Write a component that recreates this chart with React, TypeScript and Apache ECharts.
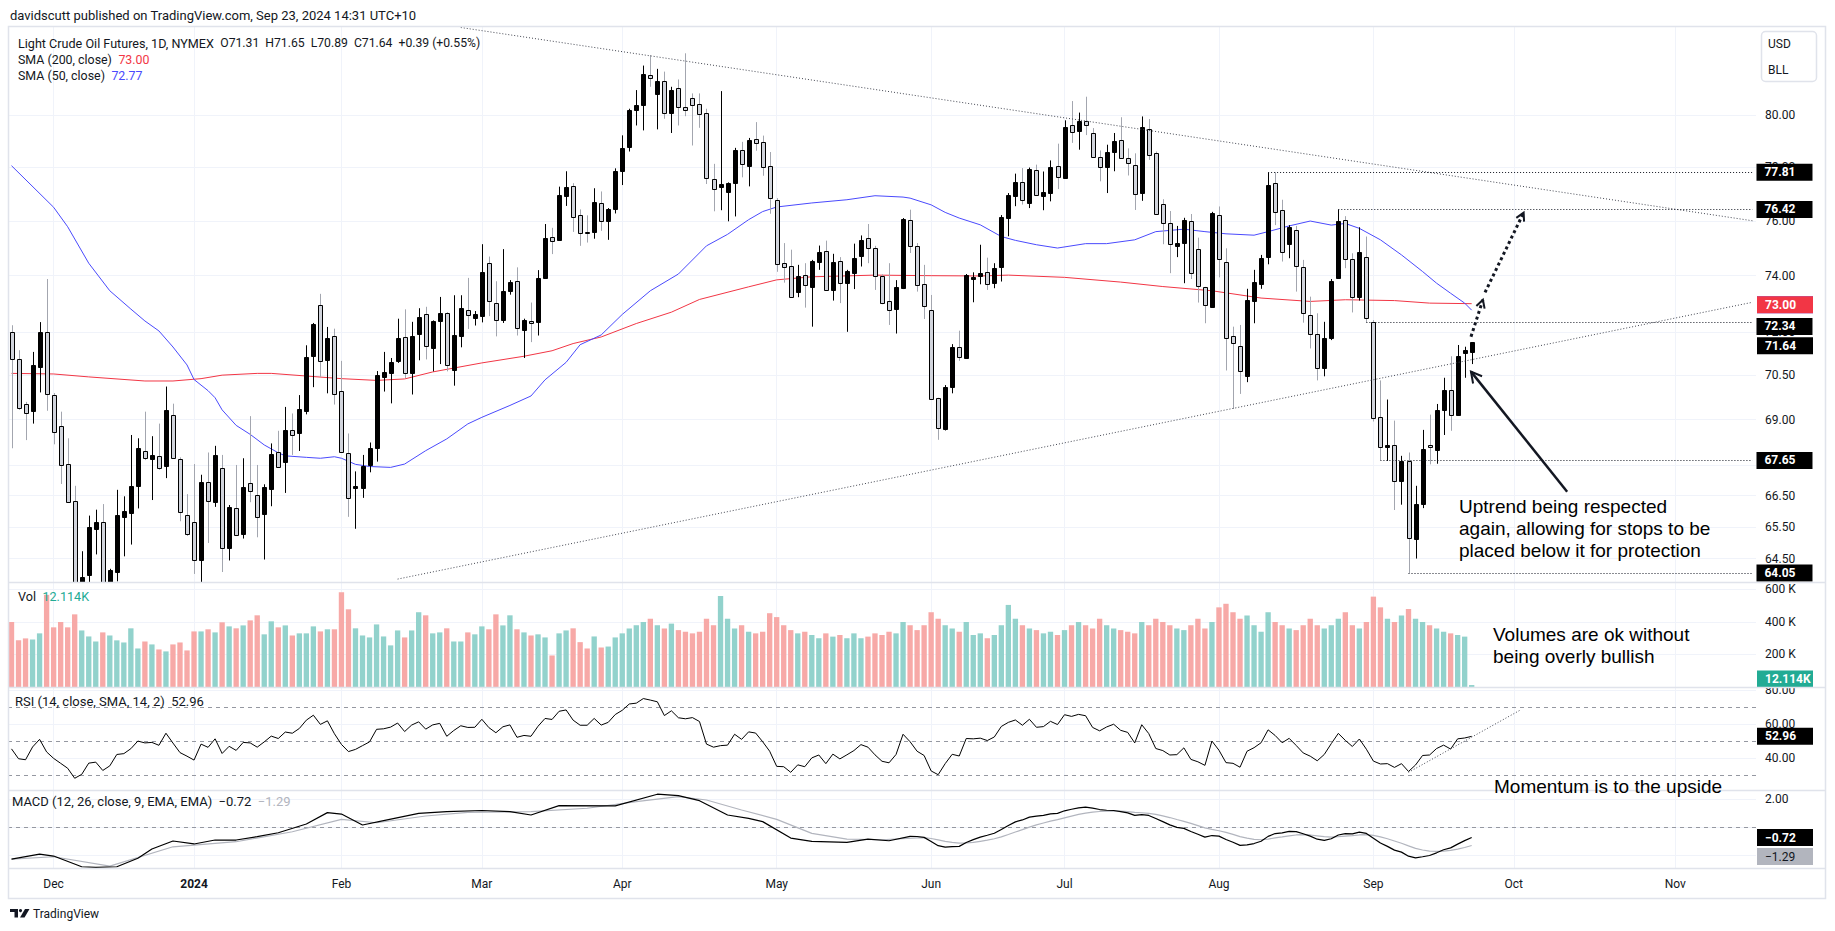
import React, { useEffect, useRef } from "react";
import * as echarts from "echarts";

// ---------------- data ----------------
const HOLIDAYS = ["2023-11-23", "2023-12-25", "2024-01-01", "2024-01-15", "2024-02-19", "2024-03-29", "2024-05-27", "2024-06-19", "2024-07-04", "2024-09-02"];
const FIRST_SESSION = "2023-11-22";
const SESSION_COUNT = 249; // visible sessions incl. empty space on the right
const MONTHS = ["Jan", "Feb", "Mar", "Apr", "May", "Jun", "Jul", "Aug", "Sep", "Oct", "Nov", "Dec"];

const OPEN = [72.00,71.05,69.54,69.30,70.80,72.01,69.83,68.78,67.53,66.34,
63.30,64.00,65.42,65.67,63.60,64.08,65.82,65.95,66.82,67.96,
67.69,67.80,67.47,69.17,67.70,65.89,65.65,64.44,66.95,66.30,
67.41,64.84,66.09,65.26,66.92,66.53,65.91,66.72,67.93,67.59,
68.65,68.54,69.30,71.18,72.94,71.03,71.87,69.97,67.88,66.75,
66.75,67.50,68.07,70.43,70.60,71.00,71.82,70.60,71.93,72.65,
71.43,72.38,72.68,70.67,71.88,72.78,72.49,72.56,74.44,73.04,
72.42,73.44,73.80,72.08,72.38,72.35,73.93,75.42,75.30,76.93,
77.28,76.21,75.59,75.59,76.67,75.99,76.44,77.86,78.77,80.20,
80.38,81.58,80.81,81.35,80.08,81.07,80.31,80.66,80.42,80.08,
77.55,77.24,77.08,77.39,78.67,78.06,79.08,78.97,78.03,76.78,
74.45,74.35,73.43,74.02,73.61,74.51,74.89,73.47,74.52,73.73,
74.11,74.70,75.37,75.00,73.99,73.10,72.80,73.57,76.04,75.08,
73.70,72.78,69.74,68.69,70.09,71.47,71.11,73.89,73.99,74.14,
73.73,74.30,76.10,76.93,77.44,76.66,77.88,76.91,77.03,78.06,
77.61,79.62,79.37,79.78,79.31,78.39,78.01,78.58,79.03,78.34,
78.09,77.03,79.45,78.53,76.61,75.90,75.08,75.18,76.00,74.96,
73.58,72.90,76.23,74.51,71.87,71.52,70.48,73.11,73.69,74.67,
77.40,76.38,75.16,75.66,74.30,72.60,71.95,70.76,71.78,73.93,
76.03,74.60,73.25,74.69,72.37,69.10,68.08,68.16,66.97,67.63,
65.11,66.23,68.16,67.99,69.33,70.01,69.16,71.28,71.31];

const HIGH = [72.24,71.37,69.60,71.31,72.35,73.88,69.90,69.27,68.38,66.82,
64.73,65.86,66.05,66.23,64.18,66.69,66.48,68.49,68.38,69.27,
68.45,68.87,70.12,69.54,67.75,66.55,67.53,67.18,67.91,68.13,
67.83,66.20,67.50,67.72,69.12,67.50,66.87,68.21,68.63,69.43,
69.21,69.83,71.54,72.32,73.35,72.18,72.12,71.00,68.54,67.29,
67.83,68.24,70.65,71.31,71.10,72.47,72.80,72.36,72.84,72.89,
72.41,73.24,72.70,73.30,73.30,73.92,72.74,75.14,74.69,73.80,
74.96,73.84,74.30,72.47,73.04,74.20,75.88,75.74,77.27,77.85,
77.40,76.42,76.20,77.21,77.09,76.47,77.96,79.22,80.25,80.98,
81.95,82.37,81.82,81.71,81.11,81.40,82.44,80.85,80.85,80.25,
78.13,80.94,77.43,78.74,78.97,79.12,79.73,79.21,78.58,76.84,
75.18,74.94,74.39,74.45,74.57,75.09,75.27,74.79,74.67,74.21,
75.16,75.46,75.88,75.08,74.05,74.45,73.84,76.10,76.41,75.18,
74.39,73.31,69.74,70.17,71.58,72.05,74.06,74.12,75.12,74.65,
74.45,76.21,77.03,77.76,77.97,77.99,78.10,77.84,78.26,78.90,
79.80,80.55,80.10,80.72,79.50,78.64,78.86,79.31,79.92,78.72,
78.53,79.95,79.85,78.60,76.80,76.36,75.81,76.11,76.25,75.38,
73.60,76.33,76.53,74.99,72.19,72.25,73.53,74.21,74.75,77.81,
77.81,76.78,75.84,75.81,74.57,73.25,72.66,72.36,73.88,76.42,
76.17,74.81,75.76,75.42,72.42,70.33,69.68,68.97,67.80,67.91,
66.82,68.66,69.17,69.53,70.42,71.16,71.55,71.49,71.65];

const LOW = [68.05,69.33,68.32,68.87,69.92,69.30,68.18,66.88,66.31,63.20,
63.00,63.60,64.63,63.30,63.40,63.79,64.57,64.94,66.09,67.66,
66.36,67.34,67.07,67.70,65.68,65.21,64.02,63.77,64.99,66.14,
64.08,64.44,65.21,65.13,66.29,65.17,64.47,66.16,67.41,66.59,
67.83,67.96,69.18,70.10,70.45,69.89,69.51,67.94,65.82,65.44,
66.43,67.26,67.61,69.95,69.55,70.93,70.41,69.85,71.02,71.05,
70.64,70.89,70.64,70.15,71.47,72.11,72.23,72.34,72.56,71.85,
72.32,73.32,71.88,71.10,71.65,71.88,73.88,74.78,75.30,76.55,
75.59,75.08,75.20,75.34,75.63,75.30,76.27,77.33,78.60,79.60,
79.41,81.11,79.45,79.86,79.31,79.60,79.96,78.83,79.51,77.37,
76.35,76.39,75.98,76.16,77.62,77.28,78.63,77.68,76.26,74.14,
73.75,73.25,73.23,72.86,72.19,74.21,73.47,73.11,73.02,72.01,
73.52,74.33,74.45,73.49,72.98,72.25,71.95,73.52,74.82,73.43,
72.46,69.71,68.33,68.64,69.89,71.00,71.11,73.05,73.69,73.49,
73.55,73.79,75.43,76.54,76.60,76.47,76.93,76.39,76.72,77.18,
77.60,78.93,78.67,79.23,78.39,77.47,77.03,77.85,78.32,77.69,
76.40,76.74,78.28,76.25,75.14,74.09,74.67,73.73,73.88,73.04,
72.31,72.86,73.94,70.67,69.36,69.87,70.27,72.31,73.53,74.41,
75.84,74.51,74.63,73.43,72.33,71.43,70.33,70.47,71.72,73.91,
74.27,72.69,73.11,72.34,68.94,67.66,67.63,66.04,66.21,64.05,
64.50,66.10,67.52,67.54,68.49,68.63,69.16,70.42,70.89];

const CLOSE = [71.08,69.39,69.21,70.86,71.99,69.86,68.58,67.50,66.31,63.40,
63.92,65.51,65.65,63.50,64.14,65.89,66.02,66.80,68.07,67.74,
67.83,67.39,69.31,67.74,65.97,65.26,64.44,66.93,66.32,67.83,
64.84,66.15,65.24,66.77,66.66,65.83,66.77,67.85,67.44,68.65,
68.49,69.37,71.12,72.27,71.00,71.81,69.86,67.94,66.43,66.83,
67.45,68.07,70.51,70.62,70.96,71.78,70.58,71.87,72.54,71.53,
72.38,72.66,70.86,71.90,72.83,72.59,72.62,74.12,73.08,72.42,
73.44,73.76,72.14,72.44,72.32,73.90,75.38,75.26,76.95,77.26,
76.14,75.55,75.55,76.71,75.99,76.44,77.85,78.73,80.19,80.40,
81.60,81.47,81.32,80.08,81.00,80.31,80.21,80.40,80.05,77.60,
77.18,77.37,77.41,78.67,78.11,79.04,78.93,78.00,76.84,74.41,
74.33,73.25,73.99,73.65,74.54,74.85,73.47,74.49,73.73,74.17,
74.63,75.31,75.00,73.99,73.02,72.78,73.58,76.06,75.08,73.65,
72.93,69.71,68.71,70.12,71.47,71.13,74.02,73.94,74.08,73.70,
74.26,76.13,76.96,77.44,76.78,77.94,76.94,77.07,78.01,77.63,
79.54,79.35,79.76,79.62,78.39,78.01,78.58,78.99,78.35,78.15,
76.99,79.55,78.46,76.25,75.90,75.14,75.18,76.03,74.08,73.63,
72.96,76.27,74.61,71.81,71.63,70.64,73.14,73.76,74.65,77.34,
76.31,74.87,75.76,74.35,72.66,71.92,70.76,71.81,73.81,75.99,
74.60,73.23,74.84,72.48,69.06,68.10,68.16,66.99,67.63,65.14,
66.23,68.02,68.10,69.34,69.99,69.16,71.16,71.36,71.64];

// volume in thousands of contracts
const VOLUME_K = [400,287,299,293,330,567,367,400,367,447,
348,311,280,336,317,287,274,361,237,280,
262,231,219,262,274,225,342,342,355,336,
398,373,361,379,410,441,324,404,367,379,
317,330,330,373,342,355,355,583,478,361,
317,305,385,311,256,348,305,348,460,441,
330,336,361,280,280,336,324,373,355,447,
379,441,355,336,317,324,305,194,330,348,
361,276,237,311,243,249,305,330,360,380,
400,420,380,360,390,350,340,330,340,420,
380,560,420,360,380,340,330,340,454,430,
380,350,330,340,320,300,330,310,320,300,
330,300,310,330,320,340,330,400,380,350,
380,460,420,380,360,340,400,320,330,300,
320,380,505,420,380,360,350,330,340,320,
350,380,400,380,360,420,380,360,350,340,
330,400,380,420,400,380,360,350,380,420,
360,400,490,512,460,420,440,380,340,460,
400,380,360,350,380,420,380,360,380,420,
460,380,360,400,556,490,420,400,440,480,
420,400,380,360,340,330,320,310,12.114];

// moving averages, read at sample sessions: [session index, price]
const SMA200_PTS: [number, number][] = [[0,70.57],[6,70.55],[11,70.45],[19,70.31],[23,70.31],[27,70.39],[30,70.51],[35,70.57],[37,70.57],[42,70.48],[47,70.39],[52,70.33],[56,70.38],[60,70.62],[67,70.93],[73,71.16],[77,71.35],[80,71.60],[84,71.83],[89,72.30],[94,72.70],[98,73.15],[105,73.60],[109,73.85],[114,73.96],[123,74.02],[131,74.00],[138,73.99],[142,74.02],[150,73.94],[158,73.77],[164,73.61],[171,73.46],[178,73.20],[185,73.08],[190,73.14],[197,73.11],[202,73.02],[208,73.00]];
const SMA50_PTS: [number, number][] = [[0,78.06],[6,76.50],[8,75.78],[11,74.45],[14,73.46],[17,72.81],[19,72.39],[21,72.04],[23,71.48],[25,70.86],[26,70.36],[28,69.98],[29,69.74],[30,69.33],[32,68.81],[34,68.51],[36,68.16],[38,67.90],[39,67.80],[42,67.75],[44,67.72],[46,67.77],[47,67.72],[49,67.52],[51,67.45],[54,67.42],[56,67.53],[59,67.97],[62,68.36],[65,68.86],[67,69.08],[71,69.48],[74,69.80],[76,70.35],[79,70.95],[81,71.56],[84,71.90],[87,72.62],[91,73.46],[95,74.06],[99,75.08],[102,75.50],[105,76.04],[107,76.34],[109,76.51],[114,76.66],[119,76.78],[123,76.93],[127,76.88],[128,76.84],[131,76.59],[133,76.31],[135,76.10],[138,75.85],[141,75.42],[143,75.28],[146,75.12],[149,75.00],[153,75.16],[156,75.16],[160,75.30],[163,75.60],[167,75.69],[170,75.60],[173,75.52],[177,75.47],[179,75.60],[182,75.81],[185,75.99],[188,75.84],[190,75.90],[192,75.72],[195,75.30],[198,74.75],[201,74.15],[203,73.73],[205,73.37],[207,73.02],[208,72.77]];

// RSI(14), one value per session
const RSI_VALUES = [45.6,39.8,39.2,46.7,51.2,43.8,40.0,37.1,34.2,28.3,
30.6,37.2,37.8,32.9,35.6,42.3,42.8,45.7,50.2,49.1,
49.4,47.7,54.8,49.0,43.4,41.3,39.0,48.4,46.5,51.5,
42.9,47.1,44.7,49.4,49.1,46.6,49.7,53.1,51.7,55.5,
54.8,57.6,62.5,65.4,60.0,62.1,54.5,48.2,44.0,45.3,
47.5,49.7,57.1,57.4,58.4,60.8,55.8,59.6,61.5,57.2,
59.7,60.6,53.0,56.4,59.2,58.2,58.3,63.0,58.1,55.1,
58.6,59.7,52.4,53.5,53.0,58.9,63.5,62.9,67.7,68.5,
62.5,59.5,59.5,63.5,59.6,61.2,65.8,68.3,72.0,72.5,
75.2,74.3,73.3,65.2,68.0,63.9,63.3,64.0,61.7,48.4,
46.6,47.5,47.8,54.2,51.2,55.6,54.9,49.8,44.2,35.3,
35.1,31.8,36.2,35.1,40.3,42.0,36.9,42.5,39.7,42.1,
44.6,48.1,46.6,42.1,38.3,37.4,42.3,54.2,49.8,44.2,
41.7,32.6,30.4,36.9,42.4,41.4,51.7,51.5,51.9,50.5,
52.6,58.8,61.2,62.6,59.5,63.0,58.3,58.7,61.8,59.9,
65.7,64.7,65.9,65.1,58.2,56.2,58.5,60.1,56.5,55.3,
49.1,59.8,54.6,45.8,44.6,42.0,42.2,46.2,39.4,38.0,
35.9,50.2,44.8,37.5,37.1,34.8,44.2,46.3,49.2,56.8,
53.5,49.2,51.8,47.6,43.2,41.3,38.6,42.3,48.7,54.7,
50.6,47.0,51.4,45.4,38.4,36.7,36.9,34.7,36.9,32.3,
36.1,41.7,42.0,45.8,47.8,45.5,51.5,52.0,52.96];

// MACD line and signal: [session index, value]
const MACD_PTS: [number, number][] = [[0,-2.26],[4,-1.90],[6,-2.04],[10,-2.80],[12,-2.85],[15,-2.80],[18,-2.20],[20,-1.54],[23,-0.97],[26,-1.18],[29,-0.90],[32,-0.90],[35,-0.66],[38,-0.38],[42,0.24],[45,1.05],[47,0.95],[50,0.17],[53,0.48],[58,1.00],[62,1.12],[67,1.20],[71,1.12],[74,0.88],[78,1.55],[86,1.53],[92,2.36],[95,2.26],[98,1.90],[102,0.88],[105,0.64],[107,0.41],[111,-0.76],[114,-1.00],[119,-1.07],[122,-0.83],[125,-0.95],[128,-0.64],
[129,-0.65],[130,-0.71],[131,-1.00],[132,-1.30],[133,-1.41],[134,-1.37],[135,-1.35],[136,-1.08],[137,-0.87],[138,-0.69],[139,-0.56],[140,-0.42],[141,-0.15],[142,0.14],[143,0.39],[144,0.53],[145,0.73],[146,0.80],[147,0.85],[148,0.96],[149,1.00],[150,1.18],[151,1.29],[152,1.39],[153,1.44],[154,1.37],[155,1.27],[156,1.22],[157,1.20],[158,1.12],[159,1.03],[160,0.85],[161,0.91],[162,0.85],[163,0.63],[164,0.41],[165,0.18],[166,0.00],[167,-0.07],[168,-0.29],[169,-0.49],[170,-0.69],[171,-0.58],[172,-0.62],[173,-0.86],[174,-1.06],[175,-1.28],[176,-1.24],[177,-1.15],[178,-0.99],[179,-0.64],[180,-0.44],[181,-0.39],[182,-0.28],[183,-0.30],[184,-0.45],[185,-0.62],[186,-0.84],[187,-0.92],[188,-0.81],[189,-0.54],[190,-0.44],[191,-0.46],[192,-0.34],[193,-0.43],[194,-0.77],[195,-1.11],[196,-1.35],[197,-1.62],[198,-1.76],[199,-2.05],[200,-2.17],[201,-2.09],[202,-2.00],[203,-1.81],[204,-1.59],[205,-1.46],[206,-1.19],[207,-0.94],[208,-0.72]];
const SIGNAL_PTS: [number, number][] = [[0,-2.26],[6,-2.09],[14,-2.76],[23,-1.38],[32,-1.02],[40,-0.31],[47,0.57],[52,0.33],[59,0.81],[65,1.07],[74,1.12],[82,1.36],[89,1.83],[95,2.19],[99,1.95],[104,1.24],[109,0.57],[114,-0.43],[119,-0.83],[124,-0.88],
[129,-0.74],[130,-0.73],[131,-0.79],[132,-0.89],[133,-0.99],[134,-1.07],[135,-1.12],[136,-1.11],[137,-1.07],[138,-0.99],[139,-0.91],[140,-0.81],[141,-0.68],[142,-0.51],[143,-0.33],[144,-0.16],[145,0.02],[146,0.18],[147,0.31],[148,0.44],[149,0.55],[150,0.68],[151,0.80],[152,0.92],[153,1.02],[154,1.09],[155,1.13],[156,1.15],[157,1.16],[158,1.15],[159,1.12],[160,1.07],[161,1.04],[162,1.00],[163,0.93],[164,0.82],[165,0.70],[166,0.56],[167,0.43],[168,0.29],[169,0.13],[170,-0.03],[171,-0.14],[172,-0.24],[173,-0.36],[174,-0.50],[175,-0.66],[176,-0.77],[177,-0.85],[178,-0.88],[179,-0.83],[180,-0.75],[181,-0.68],[182,-0.60],[183,-0.54],[184,-0.52],[185,-0.54],[186,-0.60],[187,-0.66],[188,-0.69],[189,-0.66],[190,-0.62],[191,-0.59],[192,-0.54],[193,-0.52],[194,-0.57],[195,-0.68],[196,-0.81],[197,-0.97],[198,-1.13],[199,-1.32],[200,-1.49],[201,-1.61],[202,-1.69],[203,-1.71],[204,-1.69],[205,-1.64],[206,-1.55],[207,-1.43],[208,-1.29]];

const PRICE_TICKS = [64.5, 65.5, 66.5, 67.5, 69, 70.5, 72, 74, 76, 78, 80];
const PRICE_LABELS = [64.5, 65.5, 66.5, 69, 70.5, 72, 74, 76, 78, 80];
const VOL_TICKS = [200000, 400000, 600000];
const RSI_TICKS = [40, 60, 80];
const RSI_BANDS = [70, 50, 30];
const MACD_GRID_TICKS = [-2, 0, 2];
const MACD_LABEL_TICKS = [2];

const LEVELS: { price: number; from: number; shift: number }[] = [
  { price: 77.81, from: 179, shift: 0 }, { price: 76.42, from: 189, shift: 0 }, { price: 72.34, from: 193, shift: 4 },
  { price: 67.65, from: 195, shift: 0 }, { price: 64.05, from: 199, shift: 0 },
];
const DESC_TREND: [number, number][] = [[64, 83.48], [248, 76.00]];
const ASC_TREND: [number, number][] = [[55, 63.86], [248, 73.05]];
const RSI_TREND: [number, number][] = [[199, 31.8], [215, 68.6]];
const DOTTED_ARROW_A: [number, number][] = [[207.9, 71.84], [209.6, 73.14]];
const DOTTED_ARROW_B: [number, number][] = [[209.9, 73.40], [215.4, 76.30]];
const SOLID_ARROW: [number, number][] = [[221.6, 66.63], [207.9, 70.63]];

const LAST = { open: 71.31, high: 71.65, low: 70.89, close: 71.64, chg: "+0.39", chgPct: "+0.55%", sma200: 73.0, sma50: 72.77, vol: 12114, rsi: 52.96, macd: -0.72, signal: -1.29 };

// ---------------- styles / layout ----------------
const UI_FONT = "Roboto, 'Noto Sans', sans-serif";
const ANN_FONT = "'Liberation Sans', Arial, sans-serif";
const TEXT = "#131722";
const GRID_C = "#f0f3fa";
const BORDER_C = "#e0e3eb";
const RED = "#f23645";
const BLUE = "#4a4afd";
const TEAL = "#22ab94";
const VOL_UP = "#92d2cc";
const VOL_DN = "#f7a9a7";
const LEFT = 8;
const PLOT_W = 1748;
const TOPS = [27, 582, 687, 790];
const BOTTOMS = [582, 687, 790, 868];
const PRICE_MIN = 63.77;
const PRICE_MAX = 83.5;

const ln = Math.log;
const minus = (v: number) => v.toFixed(2).replace("-", "\u2212");

function buildDates(): string[] {
  const out: string[] = [];
  const d = new Date(FIRST_SESSION + "T00:00:00Z");
  while (out.length < SESSION_COUNT) {
    const dow = d.getUTCDay();
    const s = d.toISOString().slice(0, 10);
    if (dow !== 0 && dow !== 6 && HOLIDAYS.indexOf(s) < 0) out.push(s);
    d.setUTCDate(d.getUTCDate() + 1);
  }
  return out;
}

function boxLabel(text: string, bg: string, fg: string, extra: any = {}) {
  return {
    show: true, position: "end", formatter: text, backgroundColor: bg, color: fg,
    fontFamily: UI_FONT, fontSize: 12, fontWeight: "bold", lineHeight: 13,
    padding: [2, 8, 2, 8], width: 40, align: "left", distance: 1, ...extra,
  };
}
const HIDDEN_LINE = { color: "rgba(0,0,0,0)", width: 1, type: "solid" };

function buildOption() {
  const dates = buildDates();
  const monthStart = dates.map((s, i) => i > 0 && s.slice(5, 7) !== dates[i - 1].slice(5, 7));
  const isStart = (i: number) => monthStart[i];

  const xAxes = [0, 1, 2, 3].map((g) => ({
    type: "category", gridIndex: g, data: dates, boundaryGap: true,
    axisLine: { show: false }, axisTick: { show: false },
    axisLabel: {
      show: g === 3, interval: isStart, margin: 10, color: TEXT, fontSize: 12, fontFamily: UI_FONT,
      formatter: (v: string) => {
        const m = +v.slice(5, 7) - 1;
        return m === 0 ? `{y|${v.slice(0, 4)}}` : MONTHS[m];
      },
      rich: { y: { fontWeight: "bold", fontSize: 12, color: TEXT, fontFamily: UI_FONT } },
    },
    splitLine: { show: true, interval: isStart, alignWithLabel: true, lineStyle: { color: GRID_C, width: 1 } },
  }));

  const axisLabelBase = { color: TEXT, fontSize: 12, fontFamily: UI_FONT, margin: 9 };
  const lnTicks = PRICE_TICKS.map(ln);
  const lnLabels = PRICE_LABELS.map(ln);
  const yAxes = [
    {
      type: "value", gridIndex: 0, position: "right", min: ln(PRICE_MIN), max: ln(PRICE_MAX),
      axisLine: { show: false }, axisTick: { show: false, customValues: lnTicks },
      axisLabel: { ...axisLabelBase, customValues: lnLabels, formatter: (v: number) => Math.exp(v).toFixed(2) },
      splitLine: { show: true, lineStyle: { color: GRID_C } },
    },
    {
      type: "value", gridIndex: 1, position: "right", min: 0, max: 646000,
      axisLine: { show: false }, axisTick: { show: false, customValues: VOL_TICKS },
      axisLabel: { ...axisLabelBase, customValues: VOL_TICKS, formatter: (v: number) => `${v / 1000} K` },
      splitLine: { show: true, lineStyle: { color: GRID_C } },
    },
    {
      type: "value", gridIndex: 2, position: "right", min: 21.4, max: 82.0,
      axisLine: { show: false }, axisTick: { show: false, customValues: RSI_TICKS },
      axisLabel: { ...axisLabelBase, customValues: RSI_TICKS, formatter: (v: number) => v.toFixed(2) },
      splitLine: { show: true, lineStyle: { color: GRID_C } },
    },
    {
      type: "value", gridIndex: 3, position: "right", min: -2.89, max: 2.66,
      axisLine: { show: false }, axisTick: { show: false, customValues: MACD_GRID_TICKS },
      axisLabel: { ...axisLabelBase, customValues: MACD_LABEL_TICKS, formatter: (v: number) => v.toFixed(2) },
      splitLine: { show: true, lineStyle: { color: GRID_C } },
    },
  ];

  const grids = TOPS.map((t, i) => ({
    left: LEFT, width: PLOT_W, top: t, height: BOTTOMS[i] - t, containLabel: false, outerBoundsMode: "none", show: false,
  }));

  const candleData = OPEN.map((o, i) => [i, ln(o), ln(CLOSE[i]), ln(LOW[i]), ln(HIGH[i])]);
  const lnPts = (pts: [number, number][]) => pts.map(([i, v]) => [i, ln(v)]);

  const series: any[] = [
    {
      type: "custom", name: "candles", xAxisIndex: 0, yAxisIndex: 0, clip: true, z: 3,
      data: candleData, encode: { x: 0, y: [1, 2, 3, 4] },
      renderItem: (_p: any, api: any) => {
        const i = api.value(0);
        const o = api.value(1), c = api.value(2), l = api.value(3), h = api.value(4);
        const pO = api.coord([i, o]), pC = api.coord([i, c]);
        const pL = api.coord([i, l]), pH = api.coord([i, h]);
        const band = api.size([1, 0])[0];
        const bw = Math.max(2, Math.round(band * 0.5));
        const cx = Math.round(pO[0]) + 0.5;
        const up = c >= o;
        const top = Math.round(Math.min(pO[1], pC[1])) + 0.5;
        const bot = Math.round(Math.max(pO[1], pC[1])) + 0.5;
        return {
          type: "group",
          children: [
            { type: "line", shape: { x1: cx, y1: pH[1], x2: cx, y2: pL[1] }, style: { stroke: up ? "#000000" : "#a3a6af", lineWidth: 1 } },
            { type: "rect", shape: { x: cx - bw / 2, y: top, width: bw, height: Math.max(bot - top, 1) }, style: { fill: up ? "#000000" : "#d1d4dc", stroke: "#000000", lineWidth: 1 } },
          ],
        };
      },
    },
    {
      type: "line", name: "SMA200", xAxisIndex: 0, yAxisIndex: 0, data: lnPts(SMA200_PTS), showSymbol: false, symbol: "none",
      lineStyle: { color: RED, width: 1 }, z: 2, silent: true,
      markLine: { silent: true, symbol: "none", z: 7, data: [{ yAxis: ln(LAST.sma200), lineStyle: HIDDEN_LINE, label: boxLabel(LAST.sma200.toFixed(2), RED, "#ffffff") }] },
    },
    {
      type: "line", name: "SMA50", xAxisIndex: 0, yAxisIndex: 0, data: lnPts(SMA50_PTS), showSymbol: false, symbol: "none",
      lineStyle: { color: BLUE, width: 1 }, z: 2, silent: true,
      markLine: { silent: true, symbol: "none", z: 5, data: [{ yAxis: ln(LAST.sma50), lineStyle: HIDDEN_LINE, label: boxLabel(LAST.sma50.toFixed(2), BLUE, "#ffffff") }] },
    },
    {
      type: "line", name: "desc", xAxisIndex: 0, yAxisIndex: 0, data: lnPts(DESC_TREND), showSymbol: false, symbol: "none",
      lineStyle: { color: "#434651", width: 1, type: [1, 2] }, z: 4, silent: true,
    },
    {
      type: "line", name: "asc", xAxisIndex: 0, yAxisIndex: 0, data: lnPts(ASC_TREND), showSymbol: false, symbol: "none",
      lineStyle: { color: "#434651", width: 1, type: [1, 2] }, z: 4, silent: true,
      markLine: {
        silent: true, symbol: "none", z: 8,
        data: [
          ...LEVELS.map((lv) => [
            { coord: [lv.from, ln(lv.price)], lineStyle: { color: "#131722", width: 1, type: [1, 2] }, label: boxLabel(lv.price.toFixed(2), "#000000", "#ffffff", { distance: 4, offset: [0, lv.shift] }) },
            { coord: [SESSION_COUNT - 1, ln(lv.price)] },
          ]),
          { yAxis: ln(LAST.close), lineStyle: HIDDEN_LINE, label: boxLabel(LAST.close.toFixed(2), "#000000", "#ffffff") },
        ],
      },
    },
    {
      type: "bar", name: "Vol", xAxisIndex: 1, yAxisIndex: 1, barWidth: "76%", silent: true,
      data: VOLUME_K.map((v, i) => ({ value: v * 1000, itemStyle: { color: CLOSE[i] >= OPEN[i] ? VOL_UP : VOL_DN } })),
      markLine: { silent: true, symbol: "none", z: 8, data: [{ yAxis: LAST.vol, lineStyle: HIDDEN_LINE, label: boxLabel((LAST.vol / 1000).toFixed(3) + "K", TEAL, "#ffffff", { offset: [0, -6] }) }] },
    },
    {
      type: "line", name: "RSI", xAxisIndex: 2, yAxisIndex: 2, data: RSI_VALUES.map((v, i) => [i, v]), showSymbol: false, symbol: "none",
      lineStyle: { color: "#000000", width: 1 }, z: 3, silent: true,
      markLine: {
        silent: true, symbol: "none", z: 2,
        data: [
          ...RSI_BANDS.map((b) => ({ yAxis: b, lineStyle: { color: "#9598a1", width: 1, type: [4, 4] }, label: { show: false } })),
          { yAxis: LAST.rsi, lineStyle: HIDDEN_LINE, label: boxLabel(LAST.rsi.toFixed(2), "#000000", "#ffffff") },
        ],
      },
    },
    {
      type: "line", name: "RSItrend", xAxisIndex: 2, yAxisIndex: 2, data: RSI_TREND, showSymbol: false, symbol: "none",
      lineStyle: { color: "#434651", width: 1, type: [1, 2] }, z: 4, silent: true,
    },
    {
      type: "line", name: "MACD", xAxisIndex: 3, yAxisIndex: 3, data: MACD_PTS, showSymbol: false, symbol: "none",
      lineStyle: { color: "#000000", width: 1.2 }, z: 4, silent: true,
      markLine: {
        silent: true, symbol: "none", z: 2,
        data: [
          { yAxis: 0, lineStyle: { color: "#9598a1", width: 1, type: [4, 4] }, label: { show: false } },
          { yAxis: LAST.macd, lineStyle: HIDDEN_LINE, label: boxLabel(minus(LAST.macd), "#000000", "#ffffff") },
        ],
      },
    },
    {
      type: "line", name: "Signal", xAxisIndex: 3, yAxisIndex: 3, data: SIGNAL_PTS, showSymbol: false, symbol: "none",
      lineStyle: { color: "#b2b5be", width: 1.2 }, z: 3, silent: true,
      markLine: { silent: true, symbol: "none", z: 7, data: [{ yAxis: LAST.signal, lineStyle: HIDDEN_LINE, label: boxLabel(minus(LAST.signal), "#b2b5be", TEXT, { offset: [0, 11], fontWeight: "normal" }) }] },
    },
  ];

  return {
    animation: false,
    backgroundColor: "#ffffff",
    grid: grids,
    xAxis: xAxes,
    yAxis: yAxes,
    series,
  };
}

function txt(x: number, y: number, text: string, opts: any = {}) {
  const font = opts.font || `13px ${UI_FONT}`;
  return {
    type: "text", x, y, silent: true, z: 100,
    style: {
      text, font, fill: opts.fill || TEXT, rich: opts.rich,
      textAlign: opts.align || "left", textVerticalAlign: "middle", align: opts.align || "left", verticalAlign: "middle",
    },
  };
}

function buildGraphics(chart: any) {
  const toPx = (grid: number, idx: number, val: number) => {
    const a = chart.convertToPixel({ gridIndex: grid }, [0, val]);
    const b = chart.convertToPixel({ gridIndex: grid }, [100, val]);
    return [a[0] + ((b[0] - a[0]) * idx) / 100, a[1]];
  };
  const arrow = (pts: [number, number][], width: number, dash: any, head: number) => {
    const p0 = toPx(0, pts[0][0], ln(pts[0][1]));
    const p1 = toPx(0, pts[1][0], ln(pts[1][1]));
    const ang = Math.atan2(p1[1] - p0[1], p1[0] - p0[0]);
    const a1 = ang + Math.PI - 0.5, a2 = ang + Math.PI + 0.5;
    return [
      { type: "line", silent: true, z: 90, shape: { x1: p0[0], y1: p0[1], x2: p1[0], y2: p1[1] }, style: { stroke: "#131722", lineWidth: width, lineDash: dash } },
      {
        type: "polyline", silent: true, z: 90,
        shape: { points: [[p1[0] + head * Math.cos(a1), p1[1] + head * Math.sin(a1)], [p1[0], p1[1]], [p1[0] + head * Math.cos(a2), p1[1] + head * Math.sin(a2)]] },
        style: { stroke: "#131722", lineWidth: 2, fill: null },
      },
    ];
  };

  const g: any[] = [];
  g.push({ type: "rect", silent: true, z: 95, shape: { x: 8.5, y: 26.5, width: 1817, height: 872 }, style: { fill: null, stroke: BORDER_C, lineWidth: 1.5 } });
  [582, 687, 790, 868].forEach((y) => g.push({ type: "line", silent: true, z: 95, shape: { x1: 8, y1: y + 0.5, x2: 1826, y2: y + 0.5 }, style: { stroke: BORDER_C, lineWidth: 1.5 } }));

  const f13 = `13px ${UI_FONT}`;
  const f12 = `12.2px ${UI_FONT}`;
  g.push(txt(10, 15, "davidscutt published on TradingView.com, Sep 23, 2024 14:31 UTC+10"));
  g.push(txt(18, 43, `{a|Light Crude Oil Futures, 1D, NYMEX}  {b|O${LAST.open.toFixed(2)}  H${LAST.high.toFixed(2)}  L${LAST.low.toFixed(2)}  C${LAST.close.toFixed(2)}  ${LAST.chg} (${LAST.chgPct})}`, { rich: { a: { fill: TEXT, font: `12.6px ${UI_FONT}` }, b: { fill: TEXT, font: f12 } } }));
  g.push(txt(18, 59, `{a|SMA (200, close)}  {r|${LAST.sma200.toFixed(2)}}`, { rich: { a: { fill: TEXT, font: `12.4px ${UI_FONT}` }, r: { fill: RED, font: `12.4px ${UI_FONT}` } } }));
  g.push(txt(18, 75, `{a|SMA (50, close)}  {r|${LAST.sma50.toFixed(2)}}`, { rich: { a: { fill: TEXT, font: `12.4px ${UI_FONT}` }, r: { fill: BLUE, font: `12.4px ${UI_FONT}` } } }));
  g.push(txt(18, 596, `{a|Vol}  {r|${(LAST.vol / 1000).toFixed(3)}K}`, { rich: { a: { fill: TEXT, font: `12.6px ${UI_FONT}` }, r: { fill: TEAL, font: `12.6px ${UI_FONT}` } } }));
  g.push(txt(15, 701, `RSI (14, close, SMA, 14, 2)  ${LAST.rsi.toFixed(2)}`));
  g.push(txt(12, 801, `{a|MACD (12, 26, close, 9, EMA, EMA)  ${minus(LAST.macd)}}  {r|${minus(LAST.signal)}}`, { rich: { a: { fill: TEXT, font: f13 }, r: { fill: "#b2b5be", font: f13 } } }));

  g.push({ type: "rect", silent: true, z: 96, shape: { x: 1761.5, y: 31.5, width: 55, height: 50, r: 4 }, style: { fill: "#ffffff", stroke: BORDER_C, lineWidth: 1.5 } });
  g.push(txt(1768, 43.5, "USD", { font: `12px ${UI_FONT}` }));
  g.push(txt(1768, 70, "BLL", { font: `12px ${UI_FONT}` }));

  const af = `19px ${ANN_FONT}`;
  g.push(txt(1459, 506, "Uptrend being respected", { font: af, fill: "#000000" }));
  g.push(txt(1459, 528, "again, allowing for stops to be", { font: af, fill: "#000000" }));
  g.push(txt(1459, 550, "placed below it for protection", { font: af, fill: "#000000" }));
  g.push(txt(1493, 634, "Volumes are ok without", { font: af, fill: "#000000" }));
  g.push(txt(1493, 656, "being overly bullish", { font: af, fill: "#000000" }));
  g.push(txt(1494, 786, "Momentum is to the upside", { font: af, fill: "#000000" }));

  g.push(...arrow(DOTTED_ARROW_A, 3, [3, 3], 9));
  g.push(...arrow(DOTTED_ARROW_B, 3, [3, 3], 9));
  g.push(...arrow(SOLID_ARROW, 2.5, null, 12));

  g.push({ type: "polygon", silent: true, z: 100, shape: { points: [[10, 909], [18, 909], [18, 917.5], [14.5, 917.5], [14.5, 912], [10, 912]] }, style: { fill: TEXT } });
  g.push({ type: "circle", silent: true, z: 100, shape: { cx: 20.5, cy: 910.6, r: 1.6 }, style: { fill: TEXT } });
  g.push({ type: "polygon", silent: true, z: 100, shape: { points: [[25, 909], [29.5, 909], [24.5, 917.5], [20, 917.5]] }, style: { fill: TEXT } });
  g.push(txt(33, 913.5, "TradingView", { font: `12px ${UI_FONT}` }));
  return g;
}

export default function App() {
  const ref = useRef<HTMLDivElement>(null);
  useEffect(() => {
    if (!ref.current) return;
    const chart = echarts.init(ref.current, null, { renderer: "svg", width: 1835, height: 931 });
    chart.setOption(buildOption() as any);
    chart.setOption({ graphic: { elements: buildGraphics(chart) } } as any);
    return () => chart.dispose();
  }, []);
  return <div ref={ref} style={{ position: "absolute", left: 0, top: 0, width: 1835, height: 931, background: "#ffffff" }} />;
}
